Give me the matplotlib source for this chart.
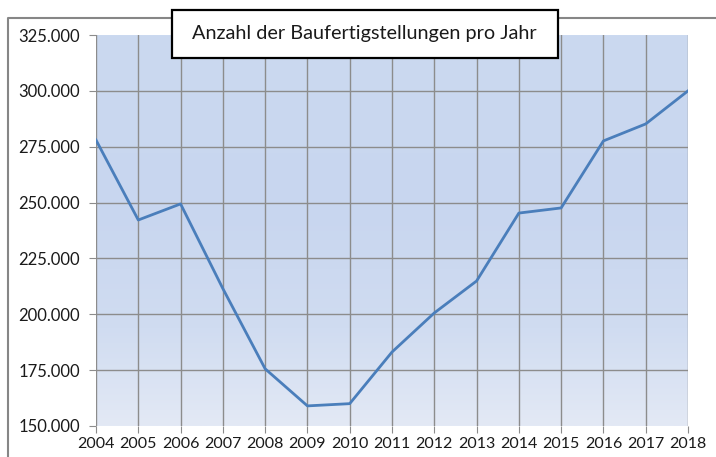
import numpy as np
import matplotlib
matplotlib.use('Agg')
import matplotlib.pyplot as plt
from matplotlib.colors import LinearSegmentedColormap
from matplotlib.patches import Rectangle
from matplotlib.lines import Line2D
from matplotlib.ticker import FuncFormatter

years = list(range(2004, 2019))
completions = [278000, 242200, 249400, 211500, 175600, 159000, 160000, 183100,
               200600, 214900, 245300, 247600, 277600, 285200, 300000]
title = 'Anzahl der Baufertigstellungen pro Jahr'

plt.rcParams['font.family'] = ['Lato', 'DejaVu Sans']

fig = plt.figure(figsize=(7.16, 4.57), dpi=100)
ax = fig.add_axes([96 / 716, 1 - 426 / 457, 592 / 716, 391 / 457])

# gradient background of the plot area
grad = LinearSegmentedColormap.from_list(
    'bg', [(0.0, '#e3e9f5'), (0.25, '#d0dcf1'), (0.55, '#c8d6ef'), (1.0, '#cbd9f0')])
ax.imshow(np.linspace(0, 1, 256).reshape(-1, 1), cmap=grad, origin='lower',
          aspect='auto', extent=[0, 1, 0, 1], transform=ax.transAxes, zorder=0)

ax.plot(years, completions, color='#4a7ebb', linewidth=2.0, zorder=3,
        solid_joinstyle='round')

ax.set_xlim(years[0], years[-1])
ax.set_ylim(150000, 325000)
ax.set_xticks(years)
ax.set_yticks(range(150000, 325001, 25000))
ax.yaxis.set_major_formatter(FuncFormatter(lambda v, p: f'{int(v):,}'.replace(',', '.')))

for s in ax.spines.values():
    s.set_visible(False)

ax.grid(True, color='#8c8c8c', linewidth=1.0, zorder=1)
ax.set_axisbelow(True)
ygl = ax.get_ygridlines()
ygl[0].set_visible(False)
ygl[-1].set_visible(False)

ax.tick_params(axis='y', direction='out', length=5, color='#8c8c8c', pad=6.5,
               labelsize=12, labelcolor='#1a1a1a')
ax.tick_params(axis='x', direction='out', length=5, color='#8c8c8c', pad=3,
               labelsize=11.5, labelcolor='#1a1a1a')

# outer chart frame
fig.add_artist(Line2D([8 / 716, 8 / 716, 1.0], [0.0, 1 - 18 / 457, 1 - 18 / 457],
                      transform=fig.transFigure, color='#868686', linewidth=1.5))

# title box
fig.add_artist(Rectangle((172 / 716, 1 - 58 / 457), 386 / 716, 48 / 457,
                         transform=fig.transFigure, facecolor='white',
                         edgecolor='black', linewidth=1.6, zorder=4))
fig.text(364 / 716, 1 - 34 / 457, title, ha='center', va='center',
         fontsize=14.3, color='#1a1a1a', zorder=5)

fig.savefig('out.png', dpi=100)
